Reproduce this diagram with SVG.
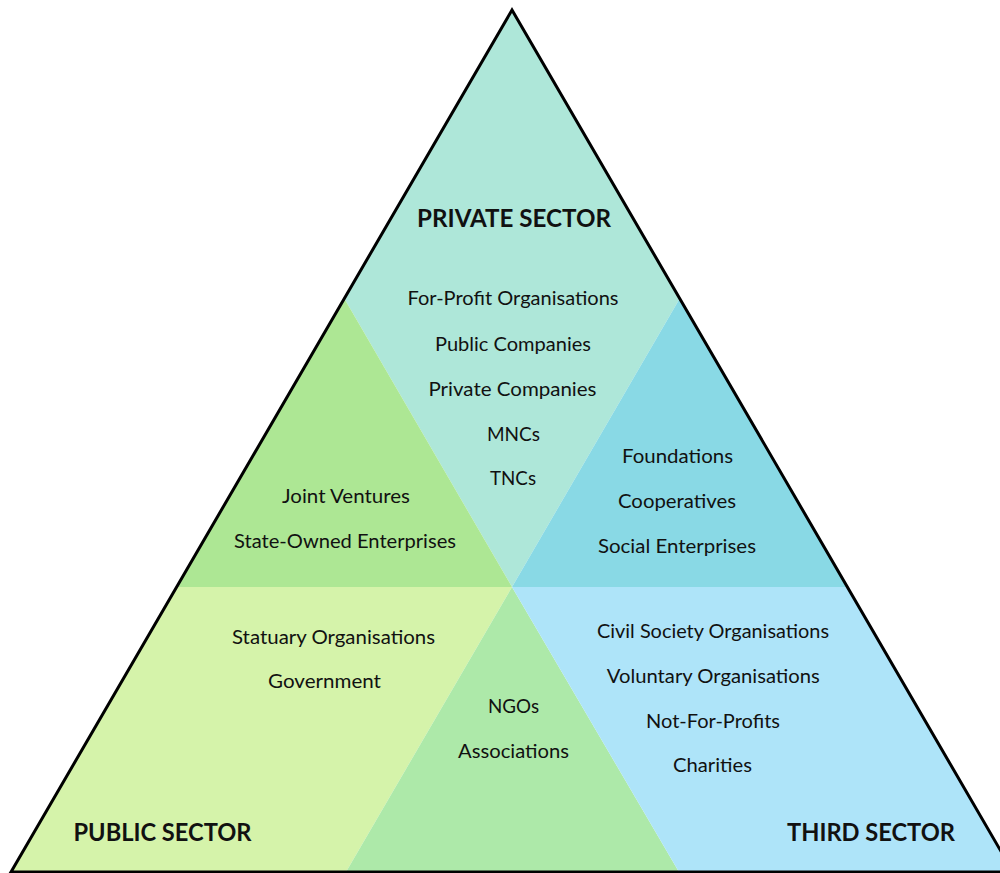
<svg xmlns="http://www.w3.org/2000/svg" width="1000" height="873" viewBox="0 0 1000 873">
  <style>
    .item { font-family: Lato, "Liberation Sans", sans-serif; font-size: 18.5px; fill: #111; text-anchor: middle; }
    .title { font-family: Lato, "Liberation Sans", sans-serif; font-size: 24px; font-weight: bold; fill: #111; text-anchor: middle; }
    .outline { fill: none; stroke: #000; stroke-width: 3; stroke-linejoin: miter; }
  </style>
  <rect width="1000" height="873" fill="#fff"/>

  <!-- Private sector: upper rhombus -->
  <g id="private-sector">
    <polygon points="512,10 344,298 512,587 680,298" fill="#AEE7D9"/>
    <text class="title" x="514" y="227" textLength="194" lengthAdjust="spacingAndGlyphs">PRIVATE SECTOR</text>
    <text class="item" x="513" y="305" textLength="211" lengthAdjust="spacingAndGlyphs">For-Profit Organisations</text>
    <text class="item" x="513" y="350.5" textLength="156" lengthAdjust="spacingAndGlyphs">Public Companies</text>
    <text class="item" x="512.5" y="395.5" textLength="168" lengthAdjust="spacingAndGlyphs">Private Companies</text>
    <text class="item" x="513.5" y="440.5" textLength="53" lengthAdjust="spacingAndGlyphs">MNCs</text>
    <text class="item" x="513" y="485" textLength="46" lengthAdjust="spacingAndGlyphs">TNCs</text>
  </g>

  <!-- Private / public overlap -->
  <g id="private-public">
    <polygon points="344,298 176,587 512,587" fill="#ADE794"/>
    <text class="item" x="346" y="502.5" textLength="128" lengthAdjust="spacingAndGlyphs">Joint Ventures</text>
    <text class="item" x="345" y="547.5" textLength="222" lengthAdjust="spacingAndGlyphs">State-Owned Enterprises</text>
  </g>

  <!-- Private / third overlap -->
  <g id="private-third">
    <polygon points="680,298 512,587 848,587" fill="#89D9E5"/>
    <text class="item" x="677.5" y="463" textLength="111" lengthAdjust="spacingAndGlyphs">Foundations</text>
    <text class="item" x="677" y="508" textLength="118" lengthAdjust="spacingAndGlyphs">Cooperatives</text>
    <text class="item" x="677" y="552.5" textLength="158" lengthAdjust="spacingAndGlyphs">Social Enterprises</text>
  </g>

  <!-- Public sector: lower left -->
  <g id="public-sector">
    <polygon points="176,587 512,587 346,872 11,872" fill="#D5F3AA"/>
    <text class="item" x="333.5" y="643.5" textLength="203" lengthAdjust="spacingAndGlyphs">Statuary Organisations</text>
    <text class="item" x="324.5" y="688" textLength="113" lengthAdjust="spacingAndGlyphs">Government</text>
    <text class="title" x="162.5" y="841" textLength="178" lengthAdjust="spacingAndGlyphs">PUBLIC SECTOR</text>
  </g>

  <!-- Public / third overlap -->
  <g id="public-third">
    <polygon points="512,587 346,872 679,872" fill="#ADE9A9"/>
    <text class="item" x="513.5" y="713" textLength="51" lengthAdjust="spacingAndGlyphs">NGOs</text>
    <text class="item" x="513.5" y="757.5" textLength="111" lengthAdjust="spacingAndGlyphs">Associations</text>
  </g>

  <!-- Third sector: lower right -->
  <g id="third-sector">
    <polygon points="512,587 848,587 1013,872 679,872" fill="#AEE4F9"/>
    <text class="item" x="713" y="638" textLength="232" lengthAdjust="spacingAndGlyphs">Civil Society Organisations</text>
    <text class="item" x="713.3" y="683" textLength="213" lengthAdjust="spacingAndGlyphs">Voluntary Organisations</text>
    <text class="item" x="713" y="727.5" textLength="134" lengthAdjust="spacingAndGlyphs">Not-For-Profits</text>
    <text class="item" x="712.5" y="772" textLength="79" lengthAdjust="spacingAndGlyphs">Charities</text>
    <text class="title" x="871" y="841" textLength="168" lengthAdjust="spacingAndGlyphs">THIRD SECTOR</text>
  </g>

  <!-- Outer triangle border -->
  <g id="connectors">
    <polygon class="outline" points="512,10 11,872 1013,872"/>
  </g>
</svg>
